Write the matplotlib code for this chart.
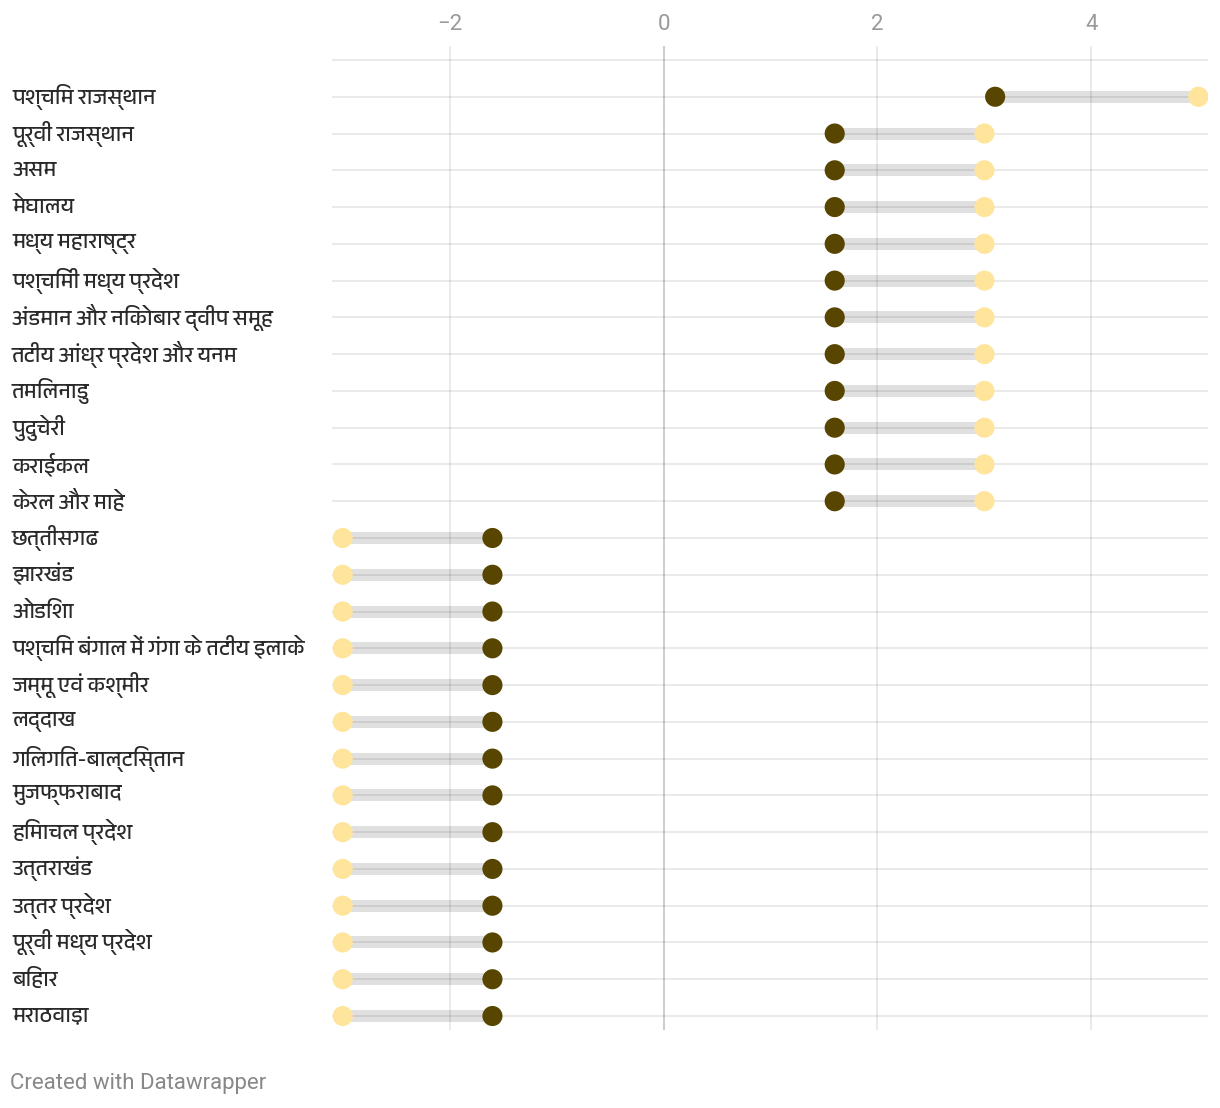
import matplotlib
matplotlib.use("Agg")
import matplotlib.pyplot as plt
import matplotlib.transforms as mtransforms
from matplotlib import font_manager

# regions, top to bottom
regions = [
    "पश्चिम राजस्थान", "पूर्वी राजस्थान", "असम", "मेघालय", "मध्य महाराष्ट्र",
    "पश्चिमी मध्य प्रदेश", "अंडमान और निकोबार द्वीप समूह", "तटीय आंध्र प्रदेश और यनम",
    "तमिलनाडु", "पुदुचेरी", "कराईकल", "केरल और माहे", "छत्तीसगढ", "झारखंड", "ओडिशा",
    "पश्चिम बंगाल में गंगा के तटीय इलाके", "जम्मू एवं कश्मीर", "लद्दाख",
    "गिलगित-बाल्टिस्तान", "मुजफ्फराबाद", "हिमाचल प्रदेश", "उत्तराखंड", "उत्तर प्रदेश",
    "पूर्वी मध्य प्रदेश", "बिहार", "मराठवाड़ा",
]
dark_vals = [3.1] + [1.6] * 11 + [-1.6] * 14
light_vals = [5.0] + [3.0] * 11 + [-3.0] * 14
xticks = [-2, 0, 2, 4]
xtick_labels = ["\u22122", "0", "2", "4"]

# pick a font that can show Devanagari if one is around
keys = ("Devanagari", "Lohit", "FreeSans", "Mukta", "Hind", "Mangal", "Gargi", "Kalimati", "Sarai")
deva = sorted({f.name for f in font_manager.fontManager.ttflist if any(k in f.name for k in keys)})
label_family = deva[:1] + ["Roboto", "DejaVu Sans"]
plt.rcParams["font.family"] = ["Roboto", "DejaVu Sans"]

W, H = 1220, 1108
row = 36.8
fig = plt.figure(figsize=(W / 100, H / 100), dpi=100)
ax = fig.add_axes([332 / W, 1 - 1030 / H, (1208 - 332) / W, (1030 - 46) / H])

n = len(regions)
ys = list(range(n))
ax.set_xlim(-3.1, 5.09)
ax.set_ylim(n - 1 + 14 / row, -1 - 14 / row)

# bands between the two values
for y, a, b in zip(ys, dark_vals, light_vals):
    ax.plot([a, b], [y, y], color="#e0e0e0", lw=8.6, solid_capstyle="butt", zorder=1)

# gridlines on top of bands (semi transparent)
for y in [-1] + ys:
    ax.axhline(y, color="black", alpha=0.085, lw=1.4, zorder=2)
for x in xticks:
    ax.axvline(x, color="black", alpha=0.2 if x == 0 else 0.085, lw=1.4, zorder=2)

ax.scatter(light_vals, ys, s=210, color="#ffe49c", edgecolors="none", zorder=3)
ax.scatter(dark_vals, ys, s=210, color="#584500", edgecolors="none", zorder=4)

ax.xaxis.tick_top()
ax.set_xticks(xticks)
ax.set_xticklabels(xtick_labels, fontsize=16, color="#999999")
ax.tick_params(axis="x", length=0, pad=8)
ax.set_yticks([])
for s in ax.spines.values():
    s.set_visible(False)

trans = mtransforms.blended_transform_factory(fig.transFigure, ax.transData)
for y, name in zip(ys, regions):
    ax.text(12 / W, y, name, transform=trans, ha="left", va="center",
            fontsize=15.5, color="#2a2a2a", family=label_family)

fig.text(10 / W, 1 - 1083 / H, "Created with Datawrapper", fontsize=16,
         color="#888888", ha="left", va="center")

fig.savefig("out.png", dpi=100)
